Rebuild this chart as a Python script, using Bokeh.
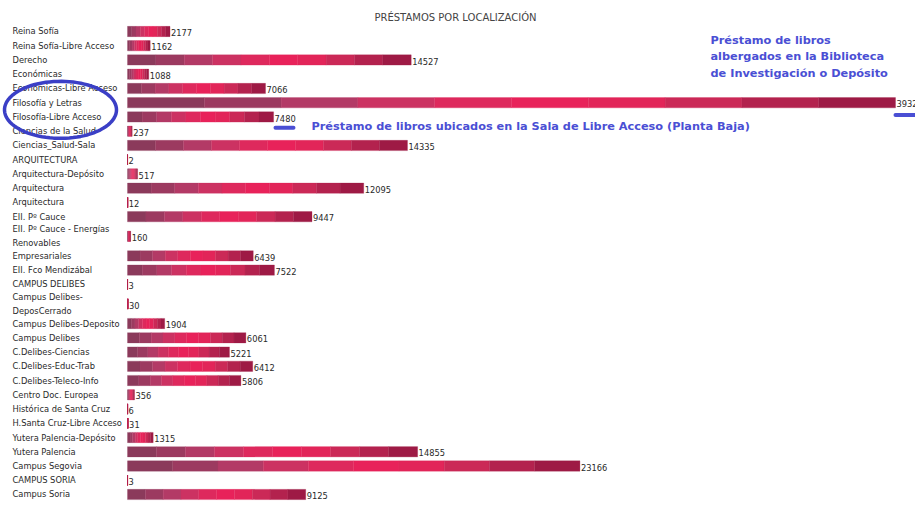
import numpy as np
from bokeh.plotting import figure
from bokeh.models import ColumnDataSource, Range1d, Label, PolyAnnotation, BoxAnnotation
from bokeh.embed import file_html
from bokeh.resources import INLINE
from bokeh.core.properties import value

# ---------------- data ----------------
labels = [
    "Reina Sofía", "Reina Sofía-Libre Acceso", "Derecho", "Económicas",
    "Económicas-Libre Acceso", "Filosofía y Letras", "Filosofía-Libre Acceso",
    "Ciencias de la Salud", "Ciencias_Salud-Sala", "ARQUITECTURA",
    "Arquitectura-Depósito", "Arquitectura", "Arquitectura", "EII. Pº Cauce",
    "EII. Pº Cauce - Energías\nRenovables", "Empresariales", "EII. Fco Mendizábal",
    "CAMPUS DELIBES", "Campus Delibes-\nDeposCerrado", "Campus Delibes-Deposito",
    "Campus Delibes", "C.Delibes-Ciencias", "C.Delibes-Educ-Trab",
    "C.Delibes-Teleco-Info", "Centro Doc. Europea", "Histórica de Santa Cruz",
    "H.Santa Cruz-Libre Acceso", "Yutera Palencia-Depósito", "Yutera Palencia",
    "Campus Segovia", "CAMPUS SORIA", "Campus Soria",
]
values = [
    2177, 1162, 14527, 1088, 7066, 39324, 7480, 237, 14335, 2,
    517, 12095, 12, 9447, 160, 6439, 7522, 3, 30, 1904,
    6061, 5221, 6412, 5806, 356, 6, 31, 1315, 14855, 23166,
    3, 9125,
]
title_text = "PRÉSTAMOS POR LOCALIZACIÓN"
note_sala = "Préstamo de libros ubicados en la Sala de Libre Acceso (Planta Baja)"
note_deposito = ["Préstamo de libros", "albergados en la Biblioteca",
                 "de Investigación o Depósito"]

# gradient bands along each bar (left -> right)
seg_colors = ["#8B3A5B", "#9C3A60", "#B33A66", "#CC3262", "#DE295D",
              "#E8225A", "#E22559", "#CB2957", "#B3224E", "#9E1A45"]

# ---------------- layout helpers ----------------
W, H = 915, 502
half = [0.875 if "\n" in l else 0.5 for l in labels]
ys = []
acc = 0.0
for i, h in enumerate(half):
    acc = h if i == 0 else acc + half[i - 1] + h
    ys.append(acc)

nseg = len(seg_colors)
seg = dict(left=[], right=[], y=[], color=[])
for v, y in zip(values, ys):
    for k in range(nseg):
        seg["left"].append(v * k / nseg)
        seg["right"].append(v * (k + 1) / nseg)
        seg["y"].append(y)
        seg["color"].append(seg_colors[k])
src = ColumnDataSource(seg)

p = figure(width=W, height=H, output_backend="svg", toolbar_location=None,
           x_range=Range1d(-6503, 40348), y_range=Range1d(33.562, -1.676),
           x_axis_location=None, y_axis_location=None, min_border=0)
p.grid.visible = False
p.outline_line_color = None
p.background_fill_color = "white"

p.hbar(y="y", left="left", right="right", height=0.72, fill_color="color",
       line_color="color", line_width=0.3, source=src)

FONT = value("DejaVu Sans")
p.text(x=0, y=ys, text=labels, x_offset=-115, text_align="left",
       text_baseline="middle", text_font=FONT, text_font_size="8.3px",
       text_color="#2a2a2a", text_line_height=1.4)
p.text(x=values, y=ys, text=[str(v) for v in values], x_offset=1, y_offset=1.2,
       text_align="left", text_baseline="middle", text_font=FONT,
       text_font_size="8.3px", text_color="#2a2a2a")

p.add_layout(Label(x=455, y=ys[0] - 0.98, x_units="screen", y_units="data",
                   text=title_text, text_align="center", text_baseline="middle",
                   text_font="DejaVu Sans", text_font_size="10px",
                   text_color="#444444"))

BLUE = "#4A4FD4"
# ellipse around the Filosofía rows
t = np.linspace(0, 2 * np.pi, 90)
yc = (ys[5] + ys[6]) / 2
p.add_layout(PolyAnnotation(xs=list(60 + 56 * np.cos(t)), ys=list(yc + 2.0 * np.sin(t)),
                            xs_units="screen", ys_units="data",
                            fill_alpha=0, line_color="#3B3FC6", line_alpha=1,
                            line_width=3.5))
# dashes
p.add_layout(BoxAnnotation(left=273, right=295, top=ys[6] + 0.62, bottom=ys[6] + 0.9,
                           left_units="screen", right_units="screen",
                           fill_color=BLUE, fill_alpha=1, line_color=None,
                           border_radius=2))
p.add_layout(BoxAnnotation(left=893, right=925, top=ys[5] + 0.72, bottom=ys[5] + 1.0,
                           left_units="screen", right_units="screen",
                           fill_color=BLUE, fill_alpha=1, line_color=None,
                           border_radius=2))

p.add_layout(Label(x=311, y=ys[6] + 0.7, x_units="screen", y_units="data",
                   text=note_sala, text_align="left", text_baseline="middle",
                   text_font="DejaVu Sans", text_font_style="bold",
                   text_font_size="11.3px", text_color=BLUE))
for i, line in enumerate(note_deposito):
    p.add_layout(Label(x=710, y=ys[0] + 0.63 + 1.16 * i, x_units="screen", y_units="data",
                       text=line, text_align="left", text_baseline="middle",
                       text_font="DejaVu Sans", text_font_style="bold",
                       text_font_size="11.3px", text_color=BLUE))

open("out.html", "w").write(file_html(p, INLINE))
